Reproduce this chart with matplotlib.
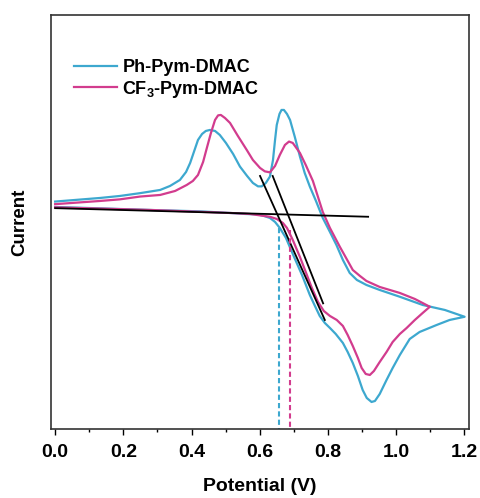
import numpy as np
from matplotlib import pyplot as plt

plt.rcParams['font.family'] = 'Liberation Sans'
plt.rcParams['font.weight'] = 'bold'
plt.rcParams['mathtext.fontset'] = 'custom'
plt.rcParams['mathtext.rm'] = 'Liberation Sans:bold'
plt.rcParams['mathtext.it'] = 'Liberation Sans:bold'
plt.rcParams['mathtext.bf'] = 'Liberation Sans:bold'

blue = '#3da8cf'
pink = '#d23c8e'

# Ph-Pym-DMAC, forward (oxidation) scan then return scan
ph_fwd_v = [0.000, 0.132, 0.190, 0.249, 0.308, 0.337, 0.366, 0.384, 0.396, 0.407, 0.419, 0.431,
            0.442, 0.454, 0.469, 0.483, 0.501, 0.522, 0.542, 0.563, 0.580, 0.595, 0.606,
            0.618, 0.630, 0.639, 0.645, 0.650, 0.658, 0.664, 0.671, 0.680, 0.689, 0.703,
            0.718, 0.732, 0.747, 0.765, 0.785, 0.806, 0.825, 0.844, 0.864, 0.885, 0.913,
            0.952, 1.011, 1.078, 1.143, 1.201]
ph_fwd_i = [0.67, 0.85, 0.95, 1.09, 1.25, 1.45, 1.75, 2.15, 2.60, 3.15, 3.75, 4.05,
            4.20, 4.25, 4.20, 4.00, 3.60, 3.05, 2.42, 1.95, 1.60, 1.43, 1.43,
            1.60, 1.92, 2.75, 3.75, 4.50, 5.05, 5.25, 5.25, 5.05, 4.75, 3.90,
            2.92, 2.10, 1.42, 0.70, -0.15, -0.85, -1.50, -2.25, -2.90, -3.25, -3.50,
            -3.75, -4.09, -4.50, -4.75, -5.09]
ph_rev_v = [1.201, 1.157, 1.119, 1.069, 1.040, 1.011, 0.990, 0.972, 0.952, 0.938, 0.928,
            0.914, 0.902, 0.888, 0.873, 0.858, 0.844, 0.823, 0.806, 0.791, 0.776, 0.762,
            0.747, 0.724, 0.697, 0.677, 0.659, 0.645, 0.630, 0.609, 0.592, 0.557, 0.513,
            0.425, 0.278, 0.132, 0.000]
ph_rev_i = [-5.09, -5.25, -5.50, -5.85, -6.20, -7.00, -7.65, -8.25, -8.95, -9.30, -9.35,
            -9.15, -8.75, -8.05, -7.40, -6.85, -6.40, -5.95, -5.65, -5.40, -5.05, -4.55,
            -4.00, -3.00, -1.95, -1.15, -0.65, -0.35, -0.15, -0.03, 0.03, 0.05, 0.10,
            0.18, 0.25, 0.33, 0.40]

# CF3-Pym-DMAC
cf_fwd_v = [0.000, 0.132, 0.190, 0.249, 0.308, 0.352, 0.386, 0.404, 0.419, 0.434, 0.445, 0.457,
            0.469, 0.478, 0.486, 0.498, 0.513, 0.536, 0.562, 0.580, 0.601, 0.615, 0.630,
            0.645, 0.659, 0.674, 0.686, 0.697, 0.718, 0.735, 0.756, 0.771, 0.785, 0.806,
            0.835, 0.855, 0.873, 0.894, 0.913, 0.952, 1.011, 1.055, 1.099]
cf_fwd_i = [0.54, 0.70, 0.78, 0.92, 1.00, 1.20, 1.50, 1.70, 2.00, 2.65, 3.35, 4.10,
            4.75, 4.98, 5.00, 4.85, 4.60, 3.95, 3.25, 2.75, 2.35, 2.18, 2.13,
            2.45, 3.00, 3.50, 3.67, 3.60, 3.10, 2.50, 1.70, 0.90, 0.15, -0.65,
            -1.59, -2.20, -2.75, -3.05, -3.30, -3.60, -3.90, -4.20, -4.59]
cf_rev_v = [1.099, 1.078, 1.055, 1.031, 1.011, 0.990, 0.972, 0.952, 0.935, 0.923, 0.911,
            0.899, 0.888, 0.873, 0.858, 0.844, 0.826, 0.806, 0.788, 0.771, 0.753, 0.735,
            0.718, 0.697, 0.680, 0.668, 0.650, 0.630, 0.571, 0.513, 0.278, 0.000]
cf_rev_i = [-4.59, -4.90, -5.25, -5.65, -5.95, -6.35, -6.85, -7.35, -7.80, -8.00, -7.95,
            -7.65, -7.15, -6.55, -6.00, -5.55, -5.25, -5.05, -4.80, -4.35, -3.65, -2.85,
            -2.10, -1.25, -0.65, -0.40, -0.20, -0.09, 0.05, 0.10, 0.25, 0.38]

# baseline and tangent lines used for onset potentials
base_v = [0.0, 0.918]
base_i = [0.34, -0.09]
tan_ph_v = [0.601, 0.791]
tan_ph_i = [1.95, -5.25]
tan_cf_v = [0.638, 0.786]
tan_cf_i = [1.95, -4.42]
onset_ph = 0.658
onset_cf = 0.689

fig = plt.figure(figsize=(4.8, 4.98), dpi=100)
ax = fig.add_axes([0.1056, 0.1386, 0.8716, 0.8314])

ax.plot(ph_fwd_v + ph_rev_v, ph_fwd_i + ph_rev_i, color=blue, lw=1.6, label='Ph-Pym-DMAC')
ax.plot(cf_fwd_v + cf_rev_v, cf_fwd_i + cf_rev_i, color=pink, lw=1.6, label=r'CF$_{3}$-Pym-DMAC')
ax.plot(base_v, base_i, color='black', lw=1.3)
ax.plot(tan_ph_v, tan_ph_i, color='black', lw=1.3)
ax.plot(tan_cf_v, tan_cf_i, color='black', lw=1.3)
ax.plot([onset_ph, onset_ph], [-0.65, -10.7], color=blue, lw=1.5, ls=(0, (2.5, 1.5)))
ax.plot([onset_cf, onset_cf], [-0.75, -10.7], color=pink, lw=1.5, ls=(0, (2.5, 1.5)))

ax.set_xlim(-0.013, 1.214)
ax.set_ylim(-10.7, 10.0)
ax.set_xticks(np.arange(0, 1.21, 0.2))
ax.set_xticks(np.arange(0.1, 1.2, 0.2), minor=True)
ax.set_yticks([])
ax.tick_params(axis='x', which='major', length=4, width=1, labelsize=14, pad=7)
ax.tick_params(axis='x', which='minor', length=2.5, width=1)
for s in ax.spines.values():
    s.set_color('#333333')
    s.set_linewidth(1.2)

ax.set_xlabel('Potential (V)', fontsize=14, fontweight='bold', labelpad=12)
ax.set_ylabel('Current', fontsize=13.5, fontweight='bold', labelpad=16)

ax.legend(loc='upper left', bbox_to_anchor=(0.016, 0.933), frameon=False, fontsize=13,
          handlelength=2.4, handletextpad=0.3, labelspacing=0.15)

plt.savefig('out.png')
